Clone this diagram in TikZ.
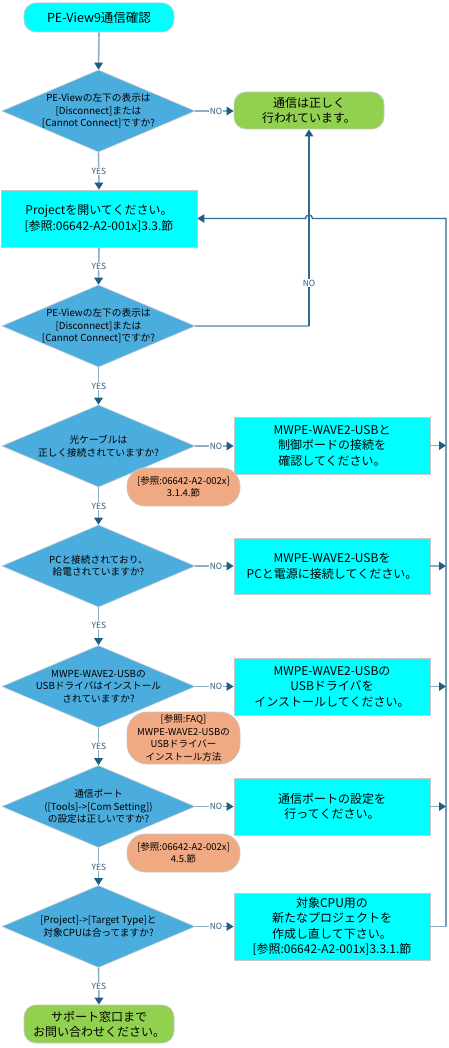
\documentclass[tikz,border=0pt]{standalone}
\usepackage{fontspec}
\setmainfont{Noto Sans CJK JP}
\usetikzlibrary{shapes.geometric,arrows.meta}
\definecolor{cyanf}{HTML}{00FFFF}
\definecolor{greenf}{HTML}{92D050}
\definecolor{diaf}{HTML}{4AADDE}
\definecolor{notef}{HTML}{F0A982}
\definecolor{bordc}{HTML}{C4CACC}
\definecolor{linel}{HTML}{8AAFC6}
\definecolor{lined}{HTML}{2D6B8F}
\definecolor{tipc}{HTML}{1F5E80}
\definecolor{labc}{HTML}{2A5D80}
\begin{document}
\begin{tikzpicture}[x=1pt,y=-1pt,
  procbox/.style={draw=bordc,line width=0.8pt,fill=cyanf,minimum width=196pt,inner sep=0pt,align=center,font=\fontsize{12}{15.5}\selectfont},
  termbox/.style={draw=bordc,line width=0.8pt,rounded corners=12pt,minimum width=150pt,inner sep=0pt,align=center,font=\fontsize{12}{15}\selectfont},
  decbox/.style={diamond,draw=bordc,line width=0.6pt,fill=diaf,minimum width=193pt,minimum height=82pt,inner sep=0pt},
  dectext/.style={align=center,inner sep=0pt,font=\fontsize{9.7}{12.5}\selectfont},
  notebox/.style={draw=bordc,line width=0.8pt,fill=notef,rounded corners=18pt,minimum width=113pt,inner sep=0pt,align=center,font=\fontsize{9.5}{12.5}\selectfont},
  lab/.style={fill=white,inner sep=0.8pt,text=labc,font=\fontsize{8.5}{10}\selectfont},
  tip/.tip={Triangle[length=7pt,width=8.5pt,color=tipc]},
  lconn/.style={draw=linel,line width=1.6pt},
  dconn/.style={draw=lined,line width=1.3pt}
]
\useasboundingbox[fill=white] (0,0) rectangle (448,1048);

% start / end
\node[termbox,fill=cyanf,minimum height=29pt,font=\fontsize{12.5}{15}\selectfont] (start) at (99,17.5) {PE-View9通信確認};
\node[termbox,fill=greenf,minimum height=37pt] (ok) at (309,110.5) {通信は正しく\\行われています。};
\node[termbox,fill=greenf,minimum height=38pt] (sup) at (99,1024) {サポート窓口まで\\お問い合わせください。};

% project box
\node[procbox,minimum height=57pt] (proj) at (99,218.5) {Projectを開いてください。\\{[}参照:06642-A2-001x]3.3.節};

% diamonds
\node[decbox] (d1) at (98.5,111) {};
\node[dectext] at (d1) {PE-Viewの左下の表示は\\{[}Disconnect]または\\{[}Cannot Connect]ですか?};
\node[decbox] (d2) at (98.5,326) {};
\node[dectext] at (d2) {PE-Viewの左下の表示は\\{[}Disconnect]または\\{[}Cannot Connect]ですか?};
\node[decbox] (d3) at (98.5,446) {};
\node[dectext] at (d3) {光ケーブルは\\正しく接続されていますか?};
\node[decbox] (d4) at (98.5,566) {};
\node[dectext] at (d4) {PCと接続されており、\\給電されていますか?};
\node[decbox] (d5) at (98.5,686.5) {};
\node[dectext] at (d5) {MWPE-WAVE2-USBの\\USBドライバはインストール\\されていますか?};
\node[decbox] (d6) at (98.5,806.5) {};
\node[dectext] at (d6) {通信ポート\\([Tools]->[Com Setting])\\の設定は正しいですか?};
\node[decbox] (d7) at (98.5,926.5) {};
\node[dectext] at (d7) {{[}Project]->[Target Type]と\\対象CPUは合ってますか?};

% action boxes
\node[procbox,minimum height=57pt] (b3) at (332,445.5) {MWPE-WAVE2-USBと\\制御ボードの接続を\\確認してください。};
\node[procbox,minimum height=56pt] (b4) at (332,566) {MWPE-WAVE2-USBを\\PCと電源に接続してください。};
\node[procbox,minimum height=57pt] (b5) at (332,686.5) {MWPE-WAVE2-USBの\\USBドライバを\\インストールしてください。};
\node[procbox,minimum height=57pt] (b6) at (332,806.5) {通信ポートの設定を\\行ってください。};
\node[procbox,minimum height=67pt] (b7) at (332,926.5) {対象CPU用の\\新たなプロジェクトを\\作成し直して下さい。\\{[}参照:06642-A2-001x]3.3.1.節};

% vertical flow
\draw[lconn,-tip] (start.south) -- (d1.north);
\draw[lconn,-tip] (d1.south) -- (proj.north);
\draw[lconn,-tip] (proj.south) -- (d2.north);
\draw[lconn,-tip] (d2.south) -- (d3.north);
\draw[lconn,-tip] (d3.south) -- (d4.north);
\draw[lconn,-tip] (d4.south) -- (d5.north);
\draw[lconn,-tip] (d5.south) -- (d6.north);
\draw[lconn,-tip] (d6.south) -- (d7.north);
\draw[lconn,-tip] (d7.south) -- (sup.north);

% NO branches
\draw[lconn,-tip] (d1.east) -- (d1.east -| ok.west);
\draw[lconn,-tip] (d3.east) -- (d3.east -| b3.west);
\draw[lconn,-tip] (d4.east) -- (d4.east -| b4.west);
\draw[lconn,-tip] (d5.east) -- (d5.east -| b5.west);
\draw[lconn,-tip] (d6.east) -- (d6.east -| b6.west);
\draw[lconn,-tip] (d7.east) -- (d7.east -| b7.west);
\draw[lconn] (d2.east) -- (d2.east -| ok.south) coordinate (k2);
\draw[dconn,-tip] (k2) -- (ok.south);

% loop back
\coordinate (ctop) at (446,218.5);
\coordinate (hopR) at (312.5,218.5);
\path (b7.east -| ctop) coordinate (c7);
\draw[lconn,-tip] (b3.east) -- (b3.east -| ctop);
\draw[lconn,-tip] (b4.east) -- (b4.east -| ctop);
\draw[lconn,-tip] (b5.east) -- (b5.east -| ctop);
\draw[lconn,-tip] (b6.east) -- (b6.east -| ctop);
\draw[lconn] (b7.east) -- (c7);
\draw[dconn,-tip] (c7) -- (ctop) -- (hopR) arc[start angle=0,end angle=180,radius=3.5pt] -- (proj.east);

% notes
\node[notebox,minimum height=38pt] (n1) at (183.5,487) {[参照:06642-A2-002x]\\3.1.4.節};
\node[notebox,minimum height=52pt,rounded corners=20pt] (n2) at (183.5,738) {[参照:FAQ]\\MWPE-WAVE2-USBの\\USBドライバー\\インストール方法};
\node[notebox,minimum height=38pt] (n3) at (183.5,853) {[参照:06642-A2-002x]\\4.5.節};

% labels
\node[lab] at (99,171) {YES};
\node[lab] at (99,266) {YES};
\node[lab] at (99,386) {YES};
\node[lab] at (99,506) {YES};
\node[lab] at (99,625) {YES};
\node[lab] at (99,746) {YES};
\node[lab] at (99,867) {YES};
\node[lab] at (99,986) {YES};
\node[lab] at (216,111) {NO};
\node[lab] at (309,283) {NO};
\node[lab] at (216,446) {NO};
\node[lab] at (216,566) {NO};
\node[lab] at (216,686.5) {NO};
\node[lab] at (216,806.5) {NO};
\node[lab] at (216,926.5) {NO};
\end{tikzpicture}
\end{document}
